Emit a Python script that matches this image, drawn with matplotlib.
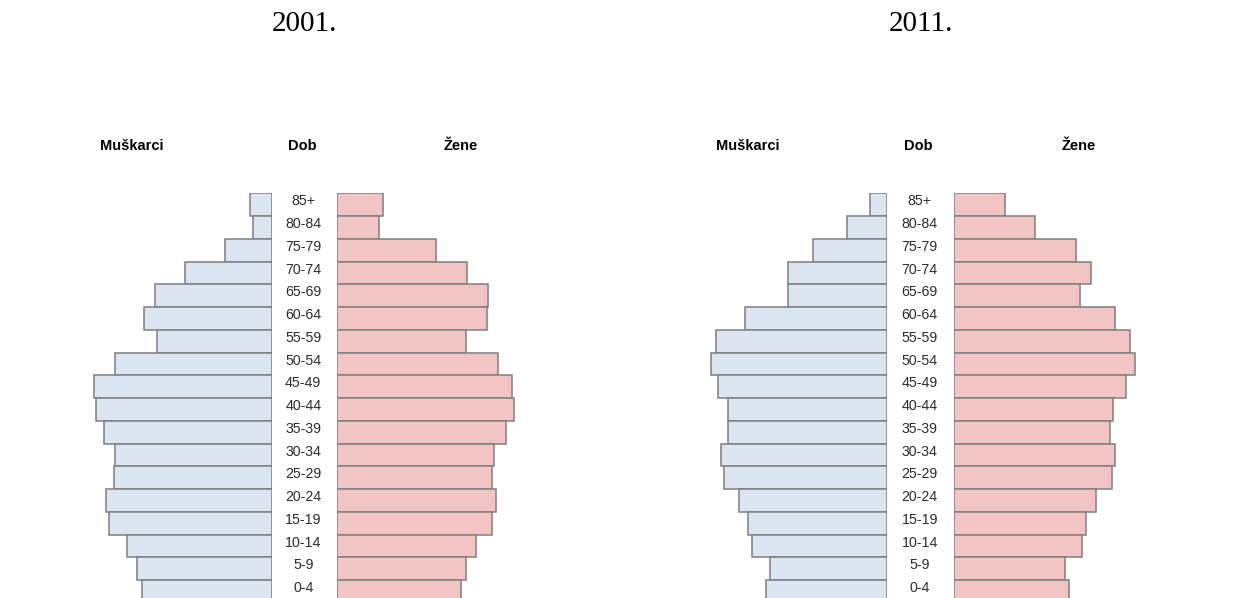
import matplotlib.pyplot as plt

# dobne skupine, od najstarije prema najmlađoj (redoslijed odozgo prema dolje)
dobne_skupine = ['85+', '80-84', '75-79', '70-74', '65-69', '60-64', '55-59',
                 '50-54', '45-49', '40-44', '35-39', '30-34', '25-29', '20-24',
                 '15-19', '10-14', '5-9', '0-4']

# vrijednosti očitane sa slike (relativne jedinice)
muskarci_2001 = [22, 19, 47, 87, 117, 128, 115, 157, 178, 176, 168, 157, 158,
                 166, 163, 145, 135, 130]
zene_2001 = [46, 42, 99, 130, 151, 150, 129, 161, 175, 177, 169, 157, 155,
             159, 155, 139, 129, 124]

muskarci_2011 = [17, 40, 74, 99, 99, 142, 171, 176, 169, 159, 159, 166, 163,
                 148, 139, 135, 117, 121]
zene_2011 = [51, 81, 122, 137, 126, 161, 176, 181, 172, 159, 156, 161, 158,
             142, 132, 128, 111, 115]

godine = ['2001.', '2011.']

#------ IZGLED

W, H = 1239, 598
boja_m = '#dce6f2'
boja_z = '#f2c4c4'
rub = '#7f7f7f'

fig = plt.figure(figsize=(W / 100, H / 100), dpi=100)

vrh = 193.3        # gornji rub stupca 85+ (px)
red = 22.75        # visina jednog reda (px)
n = len(dobne_skupine)
dno = vrh + n * red
pozicije = list(range(n - 1, -1, -1))


def piramida(os_m, os_z, muski, zenski, godina):
    # os_m = x desnog ruba muških stupaca, os_z = x lijevog ruba ženskih (px)
    sirina = 200
    y0 = (H - dno) / H
    h = (dno - vrh) / H

    ax_m = fig.add_axes([(os_m - sirina) / W, y0, sirina / W, h])
    ax_m.barh(pozicije, muski, height=1.0, color=boja_m, edgecolor=rub,
              linewidth=1.1)
    ax_m.set_xlim(sirina, 0)
    ax_m.set_ylim(-0.5, n - 0.5)
    ax_m.axis('off')

    ax_z = fig.add_axes([os_z / W, y0, sirina / W, h])
    ax_z.barh(pozicije, zenski, height=1.0, color=boja_z, edgecolor=rub,
              linewidth=1.1)
    ax_z.set_xlim(0, sirina)
    ax_z.set_ylim(-0.5, n - 0.5)
    ax_z.axis('off')

    # oznake dobi u sredini, malo iznad sredine reda
    x_oznake = -(os_z - os_m) / 2 - 1
    for p, d in zip(pozicije, dobne_skupine):
        ax_z.text(x_oznake, p + 0.14, d, family='Liberation Sans',
                  fontsize=10.2, color='#2b2b2b', ha='center', va='center')

    sredina = (os_m + os_z) / 2
    fig.text(sredina / W, 1 - 24 / H, godina, family='Liberation Serif',
             fontsize=21, ha='center', va='center')
    fig.text((os_m - 140) / W, 1 - 146 / H, 'Muškarci', family='Liberation Sans',
             fontsize=10.5, weight='bold', ha='center', va='center')
    fig.text((sredina - 2) / W, 1 - 146 / H, 'Dob', family='Liberation Sans',
             fontsize=10.5, weight='bold', ha='center', va='center')
    fig.text((os_z + 124) / W, 1 - 146 / H, 'Žene', family='Liberation Sans',
             fontsize=10.5, weight='bold', ha='center', va='center')


piramida(271.7, 336.7, muskarci_2001, zene_2001, godine[0])
piramida(887.3, 954.3, muskarci_2011, zene_2011, godine[1])

fig.savefig('out.png', dpi=100)
